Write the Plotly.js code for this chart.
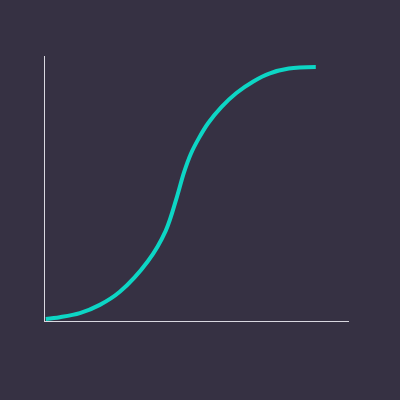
<!DOCTYPE html>
<html>
<head>
<meta charset="utf-8">
<script src="https://cdn.plot.ly/plotly-3.0.1.min.js"></script>
<style>html,body{margin:0;padding:0;background:#363143;}#chart{width:400px;height:400px;}</style>
</head>
<body>
<div id="chart"></div>
<script>
const xValues = [0, 0.052, 0.126, 0.200, 0.274, 0.378, 0.444, 0.486, 0.511, 0.537, 0.567, 0.601, 0.651, 0.706, 0.767, 0.830, 0.900, 1.0];
const yValues = [0, 0.007, 0.023, 0.056, 0.108, 0.229, 0.350, 0.486, 0.579, 0.655, 0.718, 0.777, 0.842, 0.897, 0.942, 0.975, 0.994, 1.0];

const trace = {
  x: xValues,
  y: yValues,
  type: 'scatter',
  mode: 'lines',
  line: {color: '#0dd6c5', width: 4, shape: 'spline', smoothing: 1},
  hoverinfo: 'none'
};

const layout = {
  width: 400,
  height: 400,
  paper_bgcolor: '#363143',
  plot_bgcolor: '#363143',
  margin: {l: 45, r: 51, t: 56, b: 79},
  showlegend: false,
  xaxis: {
    range: [-0.003, 1.123],
    showline: true, linecolor: '#d9d8e0', linewidth: 1,
    showgrid: false, zeroline: false, showticklabels: false, ticks: ''
  },
  yaxis: {
    range: [-0.008, 1.044],
    showline: true, linecolor: '#d9d8e0', linewidth: 1,
    showgrid: false, zeroline: false, showticklabels: false, ticks: ''
  }
};

Plotly.newPlot('chart', [trace], layout, {displayModeBar: false, staticPlot: true});
</script>
</body>
</html>
